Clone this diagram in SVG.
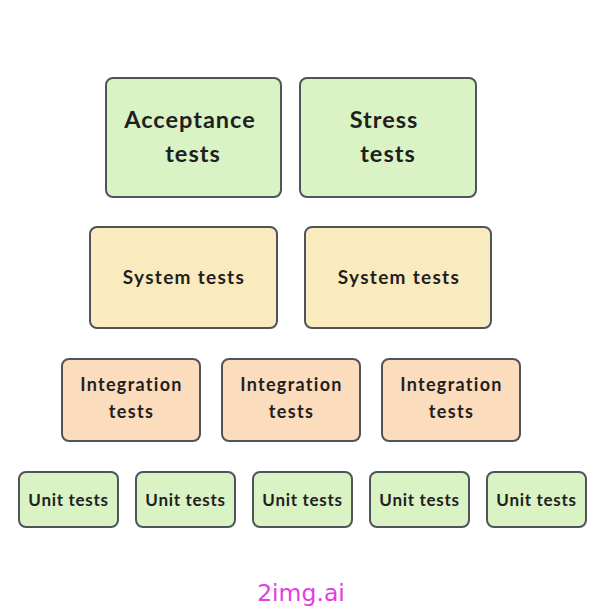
<svg xmlns="http://www.w3.org/2000/svg" width="606" height="606" viewBox="0 0 606 606">
<style>
.box{stroke:#4f545b;stroke-width:2}
.g{fill:#d9f3c5}
.y{fill:#faebbf}
.o{fill:#fbdcbd}
text{font-family:Lato,"Liberation Sans",sans-serif;font-weight:bold;fill:#1f1f1f;text-anchor:middle}
.t1{font-size:23.5px;letter-spacing:1px}
.t2{font-size:19px;letter-spacing:1.3px}
.t3{font-size:18px;letter-spacing:1.3px}
.t4{font-size:17px;letter-spacing:0.7px}
.wm{font-family:"DejaVu Sans",sans-serif;font-weight:normal;font-size:23.5px;fill:#e23de0;letter-spacing:0}
</style>
<rect width="606" height="606" fill="#ffffff"/>
<g id="connectors"></g>
<g id="acceptance"><rect class="box g" x="106" y="78" width="175" height="119" rx="7"/><text class="t1" x="190" y="128">Acceptance</text><text class="t1" x="193" y="162">tests</text></g>
<g id="stress"><rect class="box g" x="300" y="78" width="176" height="119" rx="7"/><text class="t1" x="384" y="128">Stress</text><text class="t1" x="388" y="162">tests</text></g>
<g id="system1"><rect class="box y" x="90" y="227" width="187" height="101" rx="7"/><text class="t2" x="184" y="284">System tests</text></g>
<g id="system2"><rect class="box y" x="305" y="227" width="186" height="101" rx="7"/><text class="t2" x="399" y="284">System tests</text></g>
<g id="integration1"><rect class="box o" x="62" y="359" width="138" height="82" rx="7"/><text class="t3" x="131.5" y="391">Integration</text><text class="t3" x="131.5" y="418">tests</text></g>
<g id="integration2"><rect class="box o" x="222" y="359" width="138" height="82" rx="7"/><text class="t3" x="291.5" y="391">Integration</text><text class="t3" x="291.5" y="418">tests</text></g>
<g id="integration3"><rect class="box o" x="382" y="359" width="138" height="82" rx="7"/><text class="t3" x="451.5" y="391">Integration</text><text class="t3" x="451.5" y="418">tests</text></g>
<g id="unit1"><rect class="box g" x="19" y="472" width="99" height="55" rx="7"/><text class="t4" x="68.5" y="506">Unit tests</text></g>
<g id="unit2"><rect class="box g" x="136" y="472" width="99" height="55" rx="7"/><text class="t4" x="185.5" y="506">Unit tests</text></g>
<g id="unit3"><rect class="box g" x="253" y="472" width="99" height="55" rx="7"/><text class="t4" x="302.5" y="506">Unit tests</text></g>
<g id="unit4"><rect class="box g" x="370" y="472" width="99" height="55" rx="7"/><text class="t4" x="419.5" y="506">Unit tests</text></g>
<g id="unit5"><rect class="box g" x="487" y="472" width="99" height="55" rx="7"/><text class="t4" x="536.5" y="506">Unit tests</text></g>
<text class="wm" x="301" y="601">2img.ai</text>
</svg>
